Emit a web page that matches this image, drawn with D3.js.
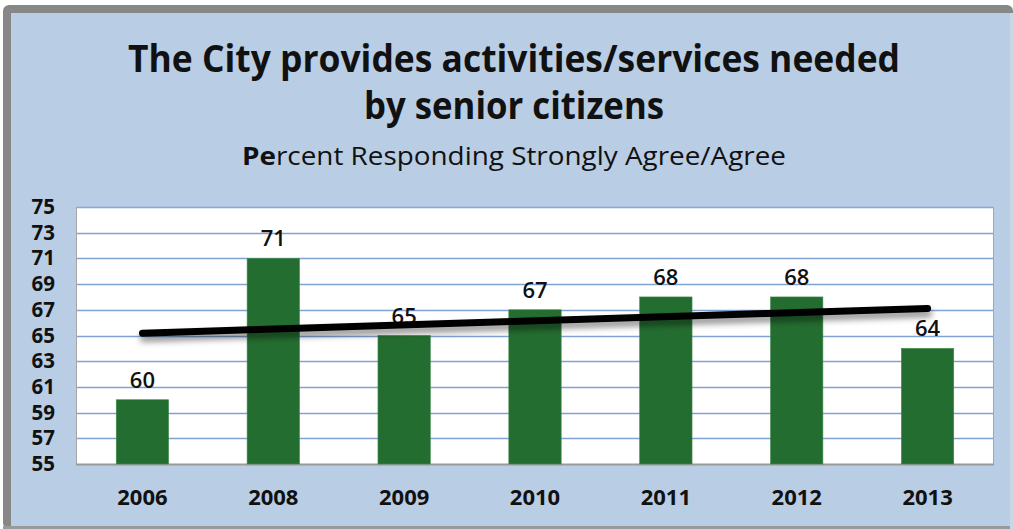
<!DOCTYPE html>
<html>
<head>
<meta charset="utf-8">
<script src="https://cdn.jsdelivr.net/npm/d3@7"></script>
<style>
  html, body { margin: 0; padding: 0; background: #ffffff; }
  svg { display: block; }
  text { font-family: "Open Sans", "Noto Sans", sans-serif; fill: #111; }
</style>
</head>
<body>
<svg id="chart" width="1013" height="529"></svg>
<script>
// Survey results by year
const years = ["2006", "2008", "2009", "2010", "2011", "2012", "2013"];
const percents = [60, 71, 65, 67, 68, 68, 64];
const yTicks = [55, 57, 59, 61, 63, 65, 67, 69, 71, 73, 75];

const titleLines = ["The City provides activities/services needed", "by senior citizens"];
const subtitle = "Percent Responding Strongly Agree/Agree";

const W = 1013, H = 529;
const plot = { left: 77, top: 207, right: 993, bottom: 464 };

const svg = d3.select("#chart");

// Drop shadow for the trend line
const defs = svg.append("defs");
const f = defs.append("filter").attr("id", "shadow")
  .attr("x", "-5%").attr("y", "-200%").attr("width", "110%").attr("height", "500%");
f.append("feDropShadow").attr("dx", 1).attr("dy", 5).attr("stdDeviation", 3)
  .attr("flood-color", "#000").attr("flood-opacity", 0.45);

// Frame
svg.append("rect").attr("x", 3).attr("y", 5).attr("width", W - 3).attr("height", H - 5)
  .attr("rx", 6).attr("fill", "#878787");
svg.append("rect").attr("x", 11).attr("y", 13).attr("width", W - 13).attr("height", H - 15)
  .attr("fill", "#B9CDE5");
svg.append("rect").attr("x", 3).attr("y", 526).attr("width", W - 3).attr("height", 3)
  .attr("fill", "#9a9a9a");
svg.append("rect").attr("x", 1010).attr("y", 13).attr("width", 3).attr("height", H - 13)
  .attr("fill", "#c9d6e6");

// Titles
const cx = 514;
svg.append("text").attr("x", cx).attr("y", 72).attr("text-anchor", "middle")
  .attr("font-size", 38).attr("font-weight", 700)
  .attr("textLength", 772).attr("lengthAdjust", "spacingAndGlyphs")
  .text(titleLines[0]);
svg.append("text").attr("x", cx).attr("y", 119).attr("text-anchor", "middle")
  .attr("font-size", 38).attr("font-weight", 700)
  .attr("textLength", 300).attr("lengthAdjust", "spacingAndGlyphs")
  .text(titleLines[1]);
const sub = svg.append("text").attr("x", cx).attr("y", 165).attr("text-anchor", "middle")
  .attr("font-size", 25)
  .attr("textLength", 544).attr("lengthAdjust", "spacingAndGlyphs");
sub.append("tspan").attr("font-weight", 700).text(subtitle.slice(0, 2));
sub.append("tspan").text(subtitle.slice(2));

// Scales
const x = d3.scaleBand().domain(years).range([plot.left, plot.right]).paddingInner(0.6).paddingOuter(0.3);
const y = d3.scaleLinear().domain([55, 75]).range([plot.bottom, plot.top]);

// Plot background
svg.append("rect").attr("x", plot.left).attr("y", plot.top)
  .attr("width", plot.right - plot.left).attr("height", plot.bottom - plot.top)
  .attr("fill", "#ffffff");

// Gridlines
svg.append("g").selectAll("line").data(yTicks.slice(1)).join("line")
  .attr("x1", plot.left).attr("x2", plot.right)
  .attr("y1", d => Math.round(y(d)) + 0.5).attr("y2", d => Math.round(y(d)) + 0.5)
  .attr("stroke", "#7FA2D3").attr("stroke-width", 1.5);

// Plot border
svg.append("rect").attr("x", plot.left - 0.5).attr("y", plot.top + 0.5)
  .attr("width", plot.right - plot.left + 1).attr("height", plot.bottom - plot.top)
  .attr("fill", "none").attr("stroke", "#A6A6A6").attr("stroke-width", 1);
svg.append("line").attr("x1", plot.left - 1).attr("x2", plot.right + 1)
  .attr("y1", plot.bottom + 0.5).attr("y2", plot.bottom + 0.5)
  .attr("stroke", "#9a9a9a").attr("stroke-width", 2);

// Y axis labels (compact font so the stacked labels stay clear of each other)
const yAxis = d3.axisLeft(y).tickValues(yTicks).tickSize(0).tickPadding(0);
const yg = svg.append("g").attr("transform", `translate(${plot.left - 22},0)`).call(yAxis);
yg.select(".domain").remove();
yg.selectAll("text").attr("font-size", 20.5).attr("font-weight", 700)
  .attr("font-family", "'Liberation Sans', Arial, sans-serif").attr("fill", "#111");

// X axis labels
const xAxis = d3.axisBottom(x).tickSize(0).tickPadding(0);
const xg = svg.append("g").attr("transform", `translate(0,${plot.bottom + 25})`).call(xAxis);
xg.select(".domain").remove();
xg.selectAll("text").attr("font-size", 22).attr("font-weight", 700)
  .attr("font-family", "'Open Sans', sans-serif").attr("fill", "#111");

// Bars
const data = years.map((yr, i) => ({ yr, v: percents[i] }));
svg.append("g").selectAll("rect").data(data).join("rect")
  .attr("x", d => x(d.yr)).attr("width", x.bandwidth())
  .attr("y", d => y(d.v)).attr("height", d => y(55) - y(d.v))
  .attr("fill", "#246D30").attr("stroke", "#3f8a4a").attr("stroke-width", 0.6);

// Value labels
svg.append("g").selectAll("text").data(data).join("text")
  .attr("x", d => x(d.yr) + x.bandwidth() / 2)
  .attr("y", d => y(d.v) - 12)
  .attr("text-anchor", "middle").attr("font-size", 22).attr("font-weight", 600)
  .text(d => d.v);

// Linear trend line (least squares over category index)
const n = percents.length;
const mx = d3.mean(d3.range(n)), my = d3.mean(percents);
const slope = d3.sum(percents, (v, i) => (i - mx) * (v - my)) / d3.sum(d3.range(n), i => (i - mx) ** 2);
const icpt = my - slope * mx;
const cxAt = i => x(years[i]) + x.bandwidth() / 2;
svg.append("line")
  .attr("x1", cxAt(0)).attr("y1", y(icpt))
  .attr("x2", cxAt(n - 1)).attr("y2", y(icpt + slope * (n - 1)))
  .attr("stroke", "#000").attr("stroke-width", 7).attr("stroke-linecap", "round")
  .attr("filter", "url(#shadow)");
</script>
</body>
</html>
